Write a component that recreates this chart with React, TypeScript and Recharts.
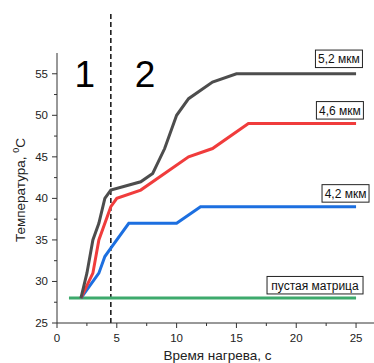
import React from 'react';
import { LineChart, Line, XAxis, YAxis, ReferenceLine, ReferenceDot } from 'recharts';

// ---- data ----
const timeBlank = [1, 25];
const tempBlank = [28, 28];
const time42 = [2, 3.5, 4, 4.5, 6, 10, 12, 25];
const temp42 = [28, 31, 33, 34, 37, 37, 39, 39];
const time46 = [2, 3, 3.5, 4.5, 5, 7, 11, 13, 16, 25];
const temp46 = [28, 31, 35, 39, 40, 41, 45, 46, 49, 49];
const time52 = [2, 2.5, 3, 3.5, 4, 4.5, 7, 8, 9, 10, 11, 13, 15, 25];
const temp52 = [28, 31, 35, 37, 40, 41, 42, 43, 46, 50, 52, 54, 55, 55];

const seriesNames = ['пустая матрица', '4,2 мкм', '4,6 мкм', '5,2 мкм'];
const xTicks = [0, 2.5, 5, 7.5, 10, 12.5, 15, 17.5, 20, 22.5, 25];
const yTicks = [25, 27.5, 30, 32.5, 35, 37.5, 40, 42.5, 45, 47.5, 50, 52.5, 55];
const phaseBoundary = 4.5;
const phaseNames = ['1', '2'];
const phaseLabelX = [2.32, 7.35];
const phaseLabelY = [53.4, 53.4];
const nameLabelX = [21.57, 24.12, 23.65, 23.57];
const nameLabelY = [29.55, 40.6, 50.6, 56.8];

const FONT = '"Liberation Sans", Arial, sans-serif';
const COLORS = ['#3daa6c', '#1c6fe0', '#f03c3c', '#4d4d4d'];
const BOX_W = [96, 47, 47, 47];
const AXIS = '#333';

const toPoints = (xs: number[], ys: number[]) => xs.map((t, i) => ({ t, v: ys[i] }));
const seriesData = [
  toPoints(timeBlank, tempBlank),
  toPoints(time42, temp42),
  toPoints(time46, temp46),
  toPoints(time52, temp52),
];

const XTick = (props: any) => {
  const { x, y, payload } = props;
  const major = payload.value % 5 === 0;
  return (
    <g>
      <line x1={x} y1={y} x2={x} y2={y + (major ? 5 : 3)} stroke={AXIS} strokeWidth={1} />
      {major && (
        <text x={x} y={y + 19} textAnchor="middle" fontSize={11.5} fill="#222" fontFamily={FONT}>
          {payload.value}
        </text>
      )}
    </g>
  );
};

const YTick = (props: any) => {
  const { x, y, payload } = props;
  const major = payload.value % 5 === 0;
  return (
    <g>
      <line x1={x - (major ? 5 : 3)} y1={y} x2={x} y2={y} stroke={AXIS} strokeWidth={1} />
      {major && (
        <text x={x - 9} y={y + 4} textAnchor="end" fontSize={11.5} fill="#222" fontFamily={FONT}>
          {payload.value}
        </text>
      )}
    </g>
  );
};

const YTitle = (props: any) => {
  const vb = props.viewBox || { x: 0, y: 53, width: 57, height: 270 };
  const cx = vb.x + 25;
  const cy = vb.y + vb.height / 2 + 2;
  return (
    <text
      x={cx}
      y={cy}
      transform={`rotate(-90 ${cx} ${cy})`}
      textAnchor="middle"
      fontSize={13.5}
      fill="#222"
      fontFamily={FONT}
    >
      Температура,{' '}
      <tspan dy={-6} fontSize={9}>0</tspan>
      <tspan dy={6}>C</tspan>
    </text>
  );
};

const XTitle = (props: any) => {
  const vb = props.viewBox || { x: 57, y: 323, width: 317, height: 40 };
  return (
    <text
      x={vb.x + vb.width / 2 + 2}
      y={vb.y + vb.height - 3.5}
      textAnchor="middle"
      fontSize={13.5}
      fill="#222"
      fontFamily={FONT}
    >
      Время нагрева, с
    </text>
  );
};

const phaseShape = (label: string) => (p: any) => (
  <text x={p.cx} y={p.cy} textAnchor="middle" fontSize={37} fill="#000" fontFamily={FONT}>
    {label}
  </text>
);

const boxShape = (label: string, w: number) => (p: any) => (
  <g>
    <rect x={p.cx - w / 2} y={p.cy - 8.75} width={w} height={17.5} fill="#fff" stroke="#222" strokeWidth={1} />
    <text x={p.cx} y={p.cy + 4.3} textAnchor="middle" fontSize={12} fill="#111" fontFamily={FONT}>
      {label}
    </text>
  </g>
);

export default function App() {
  return (
    <div style={{ position: 'absolute', left: 0, top: 0, width: 374, height: 363, background: '#fff' }}>
      <LineChart width={374} height={363} margin={{ top: 53, right: 0, bottom: 0, left: 0 }}>
        <XAxis
          dataKey="t"
          type="number"
          domain={[0, 26.5]}
          ticks={xTicks}
          interval={0}
          tickSize={0}
          tickMargin={0}
          tickLine={false}
          tick={<XTick />}
          height={40}
          stroke={AXIS}
          allowDataOverflow
          label={{ content: <XTitle /> } as any}
        />
        <YAxis
          type="number"
          domain={[25, 57.5]}
          ticks={yTicks}
          interval={0}
          tickSize={0}
          tickMargin={0}
          tickLine={false}
          tick={<YTick />}
          width={57}
          stroke={AXIS}
          allowDataOverflow
          label={{ content: <YTitle /> } as any}
        />
        <ReferenceLine
          segment={[{ x: phaseBoundary, y: 25 }, { x: phaseBoundary, y: 62.2 }]}
          ifOverflow="visible"
          stroke="#111"
          strokeWidth={1.5}
          strokeDasharray="5 3"
        />
        {seriesData.map((d, i) => (
          <Line
            key={seriesNames[i]}
            data={d}
            dataKey="v"
            name={seriesNames[i]}
            type="linear"
            stroke={COLORS[i]}
            strokeWidth={3}
            dot={false}
            activeDot={false}
            isAnimationActive={false}
          />
        ))}
        {phaseNames.map((n, i) => (
          <ReferenceDot key={'p' + n} x={phaseLabelX[i]} y={phaseLabelY[i]} r={1} shape={phaseShape(n)} ifOverflow="visible" />
        ))}
        {seriesNames.map((n, i) => (
          <ReferenceDot key={'n' + n} x={nameLabelX[i]} y={nameLabelY[i]} r={1} shape={boxShape(n, BOX_W[i])} ifOverflow="visible" />
        ))}
      </LineChart>
    </div>
  );
}
